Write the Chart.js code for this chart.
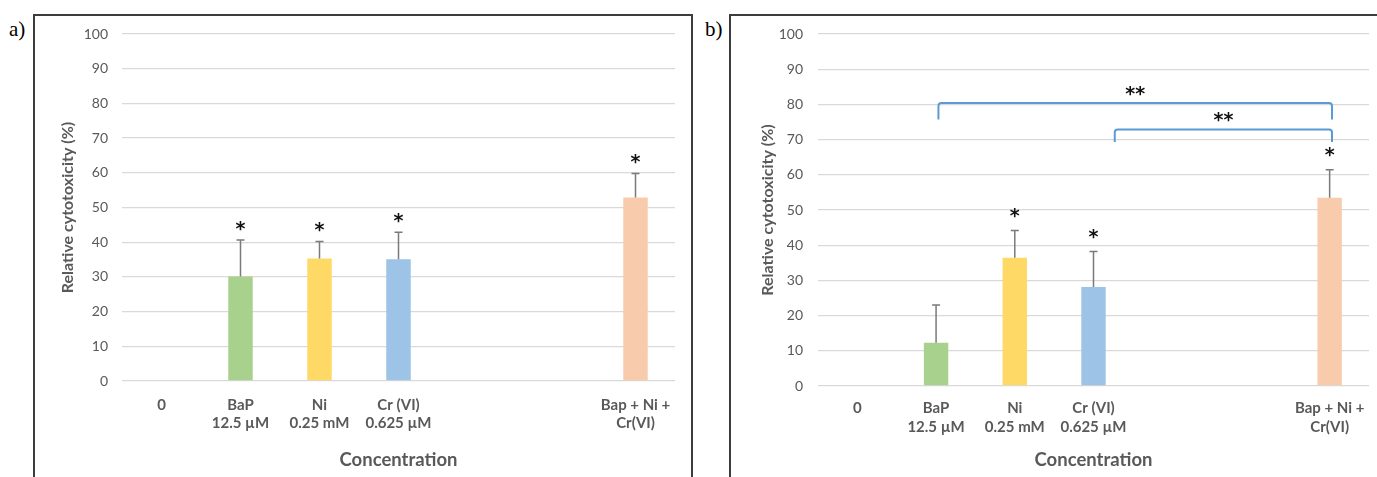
<!DOCTYPE html>
<html>
<head>
<meta charset="utf-8">
<script src="https://cdn.jsdelivr.net/npm/chart.js@4.4.1/dist/chart.umd.min.js"></script>
<style>
  body { margin: 0; background: #fff; width: 1377px; height: 477px; overflow: hidden; position: relative; }
  .frame { position: absolute; box-sizing: border-box; border: 2px solid #3c3c3c; border-bottom: none; }
  #frameA { left: 33px; top: 14px; width: 660px; height: 480px; }
  #frameB { left: 729px; top: 14px; width: 700px; height: 480px; border-right: none; }
  .tag { position: absolute; font-family: "Liberation Serif", serif; font-size: 21px; color: #000; }
  canvas { position: absolute; }
</style>
</head>
<body>
<div class="frame" id="frameA"></div>
<div class="frame" id="frameB"></div>
<div class="tag" style="left:9px; top:17px;">a)</div>
<div class="tag" style="left:705px; top:17px;">b)</div>
<canvas id="chartA" width="656" height="461" style="left:35px; top:16px;"></canvas>
<canvas id="chartB" width="662" height="461" style="left:731px; top:16px;"></canvas>
<script>
const categories = [['0'], ['BaP', '12.5 µM'], ['Ni', '0.25 mM'], ['Cr (VI)', '0.625 µM'], '', '', ['Bap + Ni +', 'Cr(VI)']];
const barColors = ['#A9D18E', '#A9D18E', '#FFD966', '#9DC3E6', '#9DC3E6', '#9DC3E6', '#F8CBAD'];

// panel a
const valuesA = [0, 30.1, 35.3, 35.1, null, null, 52.9];
const errorsA = [0, 10.5, 4.9, 7.8, 0, 0, 6.9];
const marksA = ['', '*', '*', '*', '', '', '*'];

// panel b
const valuesB = [0, 12.3, 36.4, 28.1, null, null, 53.5];
const errorsB = [0, 10.7, 7.8, 10.1, 0, 0, 7.9];
const marksB = ['', '', '*', '*', '', '', '*'];

// significance brackets in panel b (category index, value)
const bracketFrom = [1.03, 3.27];
const bracketTo = [6.03, 6.03];
const bracketTop = [80.4, 72.9];
const bracketFoot = [75.7, 69.3];
const bracketText = ['**', '**'];

const yTicks = [0, 10, 20, 30, 40, 50, 60, 70, 80, 90, 100];

const gray = '#595959';
const font = 'Lato';
const starFont = 'bold 19px "DejaVu Sans"';

const errorPlugin = {
  id: 'errors',
  afterDatasetsDraw(chart, args, opts) {
    const ctx = chart.ctx;
    const y = chart.scales.y;
    const meta = chart.getDatasetMeta(0);
    const vals = chart.data.datasets[0].data;
    ctx.save();
    meta.data.forEach((bar, i) => {
      const v = vals[i];
      if (v === null || !opts.err[i]) return;
      const x = bar.x;
      const y0 = y.getPixelForValue(v);
      const y1 = y.getPixelForValue(v + opts.err[i]);
      ctx.strokeStyle = '#7a7a7a';
      ctx.lineWidth = 1.5;
      ctx.beginPath();
      ctx.moveTo(x, y0);
      ctx.lineTo(x, y1);
      ctx.moveTo(x - 4, y1);
      ctx.lineTo(x + 4, y1);
      ctx.stroke();
      if (opts.marks[i]) {
        ctx.fillStyle = '#111';
        ctx.font = starFont;
        ctx.textAlign = 'center';
        ctx.textBaseline = 'middle';
        ctx.fillText(opts.marks[i], x, y1 - opts.gap + 5);
      }
    });
    ctx.restore();
  }
};

const bracketPlugin = {
  id: 'brackets',
  afterDatasetsDraw(chart, args, opts) {
    if (!opts.on) return;
    const ctx = chart.ctx;
    const xs = chart.scales.x;
    const ys = chart.scales.y;
    ctx.save();
    ctx.strokeStyle = '#5B9BD5';
    ctx.lineWidth = 2;
    ctx.lineJoin = 'round';
    for (let i = 0; i < bracketFrom.length; i++) {
      const x0 = xs.getPixelForValue(bracketFrom[i]);
      const x1 = xs.getPixelForValue(bracketTo[i]);
      const yt = ys.getPixelForValue(bracketTop[i]);
      const yf = ys.getPixelForValue(bracketFoot[i]);
      ctx.beginPath();
      ctx.moveTo(x0, yf);
      ctx.arcTo(x0, yt, x1, yt, 3);
      ctx.arcTo(x1, yt, x1, yf, 3);
      ctx.lineTo(x1, yf);
      ctx.stroke();
      ctx.fillStyle = '#111';
      ctx.font = starFont;
      ctx.textAlign = 'center';
      ctx.textBaseline = 'middle';
      ctx.fillText(bracketText[i], (x0 + x1) / 2, yt - 13 + 5);
    }
    ctx.restore();
  }
};

function makeChart(id, values, errors, marks, p) {
  return new Chart(document.getElementById(id), {
    type: 'bar',
    data: {
      labels: categories,
      datasets: [{
        data: values,
        backgroundColor: barColors,
        borderWidth: 0,
        categoryPercentage: 0.31,
        barPercentage: 1
      }]
    },
    options: {
      responsive: false,
      animation: false,
      devicePixelRatio: 1,
      layout: { padding: { left: 0, right: p.right, top: 18, bottom: 0 } },
      plugins: {
        legend: { display: false },
        tooltip: { enabled: false },
        errors: { err: errors, marks: marks, gap: p.gap },
        brackets: { on: p.brackets }
      },
      scales: {
        x: {
          grid: { display: false },
          border: { display: false },
          ticks: {
            color: gray,
            padding: p.xPad,
            maxRotation: 0,
            autoSkip: false,
            font: { family: font, size: 15, weight: 'bold', lineHeight: 1.25 }
          },
          title: {
            display: true,
            text: 'Concentration',
            color: gray,
            padding: { top: 0, bottom: 6 },
            font: { family: font, size: 18.5, weight: 'bold' }
          },
          afterFit(scale) { scale.height = p.xH; }
        },
        y: {
          min: 0,
          max: 100,
          afterBuildTicks(scale) { scale.ticks = yTicks.map(v => ({ value: v })); },
          grid: {
            color: '#D9D9D9',
            lineWidth: 1.3,
            drawTicks: true,
            tickLength: p.yPad,
            tickColor: 'rgba(0,0,0,0)'
          },
          border: { display: false },
          ticks: {
            color: gray,
            padding: 0,
            font: { family: font, size: 14 }
          },
          title: {
            display: true,
            text: 'Relative cytotoxicity (%)',
            color: gray,
            padding: { top: p.titlePad, bottom: 0 },
            font: { family: font, size: 16, weight: 'bold' }
          },
          afterFit(scale) { scale.width = 87; }
        }
      }
    },
    plugins: [errorPlugin, bracketPlugin]
  });
}

makeChart('chartA', valuesA, errorsA, marksA, { right: 16, xH: 96, xPad: 6.5, yPad: 14, titlePad: 23.4, gap: 15, brackets: false });
makeChart('chartB', valuesB, errorsB, marksB, { right: 24, xH: 91, xPad: 5, yPad: 15, titlePad: 27.4, gap: 18.5, brackets: true });
</script>
</body>
</html>
